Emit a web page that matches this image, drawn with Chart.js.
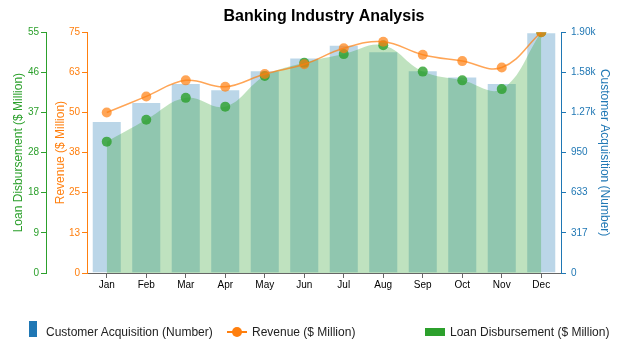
<!DOCTYPE html>
<html>
<head>
<meta charset="utf-8">
<script src="https://cdn.jsdelivr.net/npm/chart.js@4"></script>
<style>
  body { margin: 0; background: #fff; font-family: "Liberation Sans", Arial, sans-serif; }
  #wrap { position: relative; width: 641px; height: 351px; }
  #legend { position: absolute; left: 0; top: 322px; width: 641px; height: 20px; font-size: 12px; color: #222; }
  .item { position: absolute; top: 0; height: 20px; line-height: 20px; white-space: nowrap; }
  .sw { position: absolute; }
</style>
</head>
<body>
<div id="wrap">
  <canvas id="chart" width="641" height="351"></canvas>
  <div id="legend">
    <div class="item" style="left:29px;"><span class="sw" style="left:0;top:-1px;width:8px;height:16px;background:#1f77b4;"></span><span style="padding-left:17px;">Customer Acquisition (Number)</span></div>
    <div class="item" style="left:227px;"><span class="sw" style="left:0;top:9px;width:20px;height:2px;background:#ff7f0e;"></span><span class="sw" style="left:5px;top:5px;width:10px;height:10px;border-radius:50%;background:#ff7f0e;"></span><span style="padding-left:25px;">Revenue ($ Million)</span></div>
    <div class="item" style="left:425px;"><span class="sw" style="left:0;top:6px;width:20px;height:8px;background:#2ca02c;"></span><span style="padding-left:25px;">Loan Disbursement ($ Million)</span></div>
  </div>
</div>
<script>
const months = ['Jan', 'Feb', 'Mar', 'Apr', 'May', 'Jun', 'Jul', 'Aug', 'Sep', 'Oct', 'Nov', 'Dec'];
const customerAcquisition = [1200, 1350, 1500, 1450, 1600, 1700, 1800, 1750, 1600, 1550, 1500, 1900];
const revenue = [50, 55, 60, 58, 62, 65, 70, 72, 68, 66, 64, 75];
const loanDisbursement = [30, 35, 40, 38, 45, 48, 50, 52, 46, 44, 42, 55];

const tickFont = { family: '"Liberation Sans", Arial, sans-serif', size: 10 };
const titleFont = { family: '"Liberation Sans", Arial, sans-serif', size: 12 };

function fixWidth(w) {
    return function(scale) { scale.width = w; };
}

const ctx = document.getElementById('chart').getContext('2d');
const chart = new Chart(ctx, {
    data: {
        labels: months,
        datasets: [
            {
                type: 'line',
                label: 'Revenue ($ Million)',
                data: revenue,
                yAxisID: 'yRev',
                borderColor: 'rgba(255,127,14,0.7)',
                borderWidth: 1.5,
                backgroundColor: 'rgba(255,127,14,0.7)',
                pointBackgroundColor: 'rgba(255,127,14,0.7)',
                pointBorderWidth: 0,
                pointRadius: 5,
                tension: 0.4,
                fill: false,
                order: 1
            },
            {
                type: 'line',
                label: 'Loan Disbursement ($ Million)',
                data: loanDisbursement,
                yAxisID: 'yLoan',
                borderColor: 'rgba(44,160,44,0)',
                borderWidth: 0,
                backgroundColor: 'rgba(44,160,44,0.3)',
                pointBackgroundColor: 'rgba(44,160,44,0.8)',
                pointBorderWidth: 0,
                pointRadius: 5,
                tension: 0.4,
                fill: 'origin',
                order: 2
            },
            {
                type: 'bar',
                label: 'Customer Acquisition (Number)',
                data: customerAcquisition,
                yAxisID: 'yCust',
                backgroundColor: 'rgba(31,119,180,0.3)',
                borderColor: 'rgba(255,255,255,0.4)',
                borderWidth: 1,
                barPercentage: 0.76,
                categoryPercentage: 1,
                order: 3
            }
        ]
    },
    options: {
        responsive: false,
        animation: false,
        layout: { padding: { left: 7, right: 25, top: 0, bottom: 59 } },
        plugins: {
            legend: { display: false },
            tooltip: { enabled: false },
            title: {
                display: true,
                fullSize: false,
                text: 'Banking Industry Analysis',
                color: '#000',
                font: { family: '"Liberation Sans", Arial, sans-serif', size: 16, weight: 'bold' },
                padding: { top: 7, bottom: 6 }
            }
        },
        scales: {
            x: {
                offset: true,
                grid: { display: true, offset: false, drawOnChartArea: false, tickLength: 5, color: '#666' },
                border: { color: '#666' },
                ticks: { color: '#000', font: tickFont, padding: 1 }
            },
            yLoan: {
                position: 'left',
                weight: 2,
                min: 0,
                max: 55,
                afterFit: fixWidth(39),
                grid: { drawOnChartArea: false, tickLength: 5, color: '#2ca02c' },
                border: { color: '#2ca02c' },
                ticks: { count: 7, color: '#2ca02c', font: tickFont, padding: 2, callback: v => Math.round(v) },
                title: { display: true, text: 'Loan Disbursement ($ Million)', color: '#2ca02c', font: titleFont, padding: 4 }
            },
            yRev: {
                position: 'left',
                weight: 1,
                min: 0,
                max: 75,
                afterFit: fixWidth(41),
                grid: { drawOnChartArea: false, tickLength: 5, color: '#ff7f0e' },
                border: { color: '#ff7f0e' },
                ticks: { count: 7, color: '#ff7f0e', font: tickFont, padding: 2, callback: v => Math.round(v) },
                title: { display: true, text: 'Revenue ($ Million)', color: '#ff7f0e', font: titleFont, padding: 7 }
            },
            yCust: {
                position: 'right',
                min: 0,
                max: 1900,
                afterFit: fixWidth(55),
                grid: { drawOnChartArea: false, tickLength: 5, color: '#1f77b4' },
                border: { color: '#1f77b4' },
                ticks: {
                    count: 7, color: '#1f77b4', font: tickFont, padding: 5,
                    callback: v => v >= 1000 ? (v / 1000).toFixed(2) + 'k' : Math.round(v)
                },
                title: { display: true, text: 'Customer Acquisition (Number)', color: '#1f77b4', font: titleFont, padding: 4 }
            }
        }
    }
});
</script>
</body>
</html>
